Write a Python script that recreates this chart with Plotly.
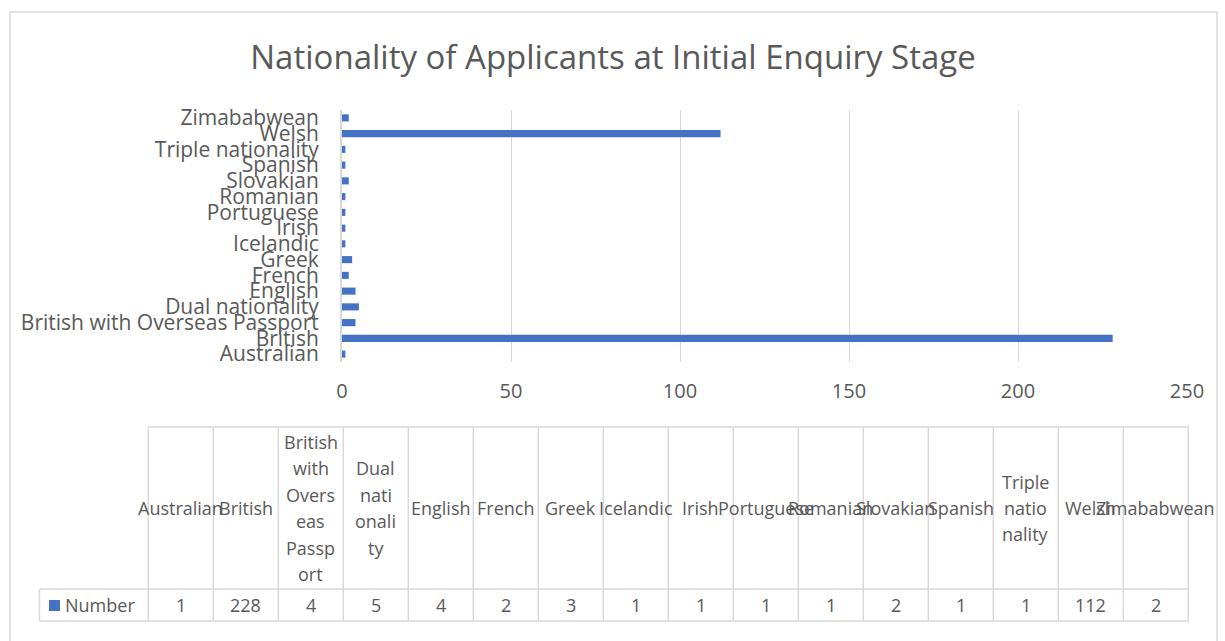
import plotly.graph_objects as go

# ---- data ----
categories = ["Australian", "British", "British with Overseas Passport", "Dual nationality",
              "English", "French", "Greek", "Icelandic", "Irish", "Portuguese", "Romanian",
              "Slovakian", "Spanish", "Triple nationality", "Welsh", "Zimababwean"]
values = [1, 228, 4, 5, 4, 2, 3, 1, 1, 1, 1, 2, 1, 1, 112, 2]
series_name = "Number"
title_text = "Nationality of Applicants at Initial Enquiry Stage"
x_ticks = [0, 50, 100, 150, 200, 250]
# how the data-table header wraps each category (Excel cell wrapping)
header_lines = {
    "British with Overseas Passport": ["British", "with", "Overs", "eas", "Passp", "ort"],
    "Dual nationality": ["Dual", "nati", "onali", "ty"],
    "Triple nationality": ["Triple", "natio", "nality"],
}

# ---- layout helpers (pixels -> paper) ----
W, H = 1225, 641
def px(x):
    return x / W
def py(y):
    return 1 - y / H

FONT = "Open Sans"
TXT = "#595959"
GRID = "#d9d9d9"
BLUE = "#4472C4"

fig = go.Figure()
fig.add_trace(go.Bar(
    y=categories, x=values, orientation="h", name=series_name,
    marker=dict(color=BLUE, line=dict(width=0)), showlegend=False,
))

plot_left, plot_right = 342, 1187
plot_top, plot_bottom = 110, 362

fig.update_layout(
    width=W, height=H, autosize=False,
    margin=dict(l=0, r=0, t=0, b=0, pad=0, autoexpand=False),
    paper_bgcolor="white", plot_bgcolor="white",
    bargap=0.55, showlegend=False,
    font=dict(family=FONT, color=TXT),
    title=dict(text=title_text, x=px(613), xanchor="center", y=py(57), yanchor="middle",
               font=dict(family=FONT, size=33, color=TXT)),
    xaxis=dict(domain=[px(plot_left), px(plot_right)], range=[0, 250],
               tickvals=x_ticks, showgrid=True, gridcolor=GRID, gridwidth=1,
               zeroline=False, showline=False, automargin=False,
               ticks="outside", ticklen=11, tickcolor="rgba(0,0,0,0)",
               tickfont=dict(family=FONT, size=20, color=TXT)),
    yaxis=dict(domain=[py(plot_bottom), py(plot_top)], type="category",
               categoryorder="array", categoryarray=categories,
               range=[-0.5, len(categories) - 0.5], dtick=1, automargin=False,
               showgrid=False, zeroline=False,
               showline=True, linecolor=GRID, linewidth=2,
               ticks="outside", ticklen=17, tickcolor="rgba(0,0,0,0)",
               tickfont=dict(family=FONT, size=21, color=TXT)),
)

shapes = []
annotations = []

# outer chart border
shapes.append(dict(type="rect", xref="paper", yref="paper",
                   x0=px(10), x1=px(1217), y0=py(700), y1=py(12),
                   line=dict(color=GRID, width=1.5), fillcolor="rgba(0,0,0,0)", layer="below"))

# ---- data table ----
t_top, t_mid, t_bot = 427, 589, 621
t_label_left = 39.5
col0 = 148.3
col_w = 65.0
n = len(categories)
t_right = col0 + n * col_w
line = dict(color=GRID, width=1.5)
shapes.append(dict(type="line", xref="paper", yref="paper", x0=px(col0), x1=px(t_right),
                   y0=py(t_top), y1=py(t_top), line=line))
for yy in (t_mid, t_bot):
    shapes.append(dict(type="line", xref="paper", yref="paper", x0=px(t_label_left), x1=px(t_right),
                       y0=py(yy), y1=py(yy), line=line))
shapes.append(dict(type="line", xref="paper", yref="paper", x0=px(t_label_left), x1=px(t_label_left),
                   y0=py(t_mid), y1=py(t_bot), line=line))
for k in range(n + 1):
    xx = col0 + k * col_w
    shapes.append(dict(type="line", xref="paper", yref="paper", x0=px(xx), x1=px(xx),
                       y0=py(t_top), y1=py(t_bot), line=line))

TFS = 18
line_h = 26.4
head_mid = (t_top + t_mid) / 2
row_mid = (t_mid + t_bot) / 2
for i, (cat, val) in enumerate(zip(categories, values)):
    cx = col0 + (i + 0.5) * col_w
    lines = header_lines.get(cat, [cat])
    m = len(lines)
    for j, ln in enumerate(lines):
        yy = head_mid + (j - (m - 1) / 2) * line_h
        annotations.append(dict(xref="paper", yref="paper", x=px(cx), y=py(yy),
                                text=ln, showarrow=False, xanchor="center", yanchor="middle",
                                font=dict(family=FONT, size=TFS, color=TXT)))
    annotations.append(dict(xref="paper", yref="paper", x=px(cx), y=py(row_mid),
                            text=str(val), showarrow=False, xanchor="center", yanchor="middle",
                            font=dict(family=FONT, size=TFS, color=TXT)))

# legend key inside the table
shapes.append(dict(type="rect", xref="paper", yref="paper", x0=px(49), x1=px(60),
                   y0=py(611), y1=py(600), fillcolor=BLUE, line=dict(width=0)))
annotations.append(dict(xref="paper", yref="paper", x=px(63), y=py(row_mid),
                        text=series_name, showarrow=False, xanchor="left", yanchor="middle",
                        font=dict(family=FONT, size=TFS, color=TXT)))

fig.update_layout(shapes=shapes, annotations=annotations)

fig.write_html("out.html", config={"displayModeBar": False},
               post_script="document.body.style.margin='0';document.body.style.overflow='hidden';")
